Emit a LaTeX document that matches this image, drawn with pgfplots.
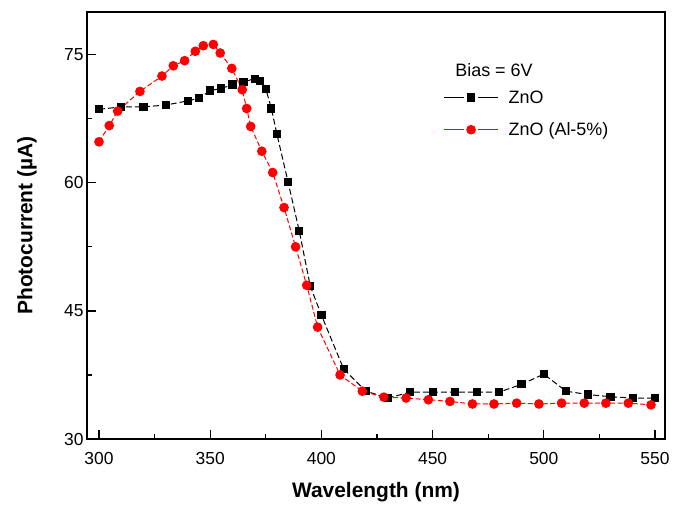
\documentclass[border=0pt]{standalone}
\usepackage{pgfplots}
\pgfplotsset{compat=1.18}
\usepackage{fontspec}
\setmainfont{Liberation Sans}

\begin{document}
\begin{tikzpicture}
\begin{axis}[
  scale only axis,
  width=578bp, height=427bp,
  xmin=294.6, xmax=554.5,
  ymin=30, ymax=80,
  xtick={300,350,...,550},
  ytick={30,45,60,75},
  minor x tick num=1,
  minor y tick num=1,
  tick pos=left,
  tick align=inside,
  major tick length=9bp,
  minor tick length=5bp,
  every tick/.style={black,line width=1.2bp},
  axis line style={line width=1.6bp},
  /pgf/number format/assume math mode=true,
  ticklabel style={font=\fontsize{17.5}{20}\selectfont},
  xticklabel style={yshift=-10bp},
  xlabel={\textbf{Wavelength (nm)}},
  ylabel={\textbf{Photocurrent (µA)}},
  label style={font=\fontsize{21}{24}\selectfont},
  xlabel style={at={(axis description cs:0.5,-0.124)},anchor=center},
  ylabel style={at={(axis description cs:-0.104,0.5)},anchor=center},
  legend style={draw=none,fill=none,font=\fontsize{18}{20}\selectfont,
    at={(axis description cs:0.611,0.826)},anchor=north west,row sep=14bp,
    /tikz/every odd column/.append style={column sep=8bp}},
  legend cell align=left,
  legend image code/.code={
    \draw[solid,mark=none,line width=1.4bp] (0bp,0bp) -- (20bp,0bp) (34bp,0bp) -- (54bp,0bp);
    \draw[solid,only marks] plot coordinates {(27bp,0bp)};},
]
\addplot[black,line width=1bp,dash pattern=on 6bp off 3bp,
  mark=square*,mark size=3.6bp,mark options={solid}] coordinates {
  (300,68.6) (310,68.9) (320,68.9) (330,69.1) (340,69.6) (345,69.9)
  (350,70.8) (355,71.05) (360,71.5) (365,71.8) (370,72.2) (372.5,71.9)
  (375,71.0) (377.5,68.7) (380,65.7) (385,60.1) (390,54.4) (395,47.9)
  (400,44.5) (410,38.2) (420,35.6) (430,34.8) (440,35.5) (450,35.5)
  (460,35.5) (470,35.5) (480,35.5) (490,36.4) (500,37.6) (510,35.6)
  (520,35.2) (530,34.95) (540,34.8) (550,34.8)};
\addlegendentry{ZnO}
\addplot[red,line width=1bp,dash pattern=on 5bp off 2.5bp,
  mark=*,mark size=4.3bp,mark options={solid}] coordinates {
  (300,64.8) (304.6,66.7) (308.4,68.4) (318.4,70.7) (328.3,72.5)
  (333.4,73.7) (338.5,74.3) (343.3,75.4) (346.9,76.05) (351.4,76.2)
  (354.5,75.2) (359.7,73.4) (364.4,70.9) (366.4,68.7) (368.2,66.6)
  (373.2,63.7) (378.1,61.2) (383.2,57.1) (388.4,52.5) (393.4,48.0)
  (398.3,43.1) (408.4,37.5) (418.4,35.6) (428.1,34.9) (438.1,34.8)
  (448.1,34.6) (457.8,34.4) (467.9,34.1) (477.6,34.1) (487.8,34.2)
  (497.8,34.1) (508,34.2) (518.2,34.2) (527.9,34.2) (538,34.2)
  (548.2,34.0)};
\addlegendentry{ZnO (Al-5\%)}
\node[anchor=base west,font=\fontsize{18}{20}\selectfont,inner sep=0pt]
  at (axis description cs:0.637,0.850) {Bias = 6V};
\end{axis}
\pgfresetboundingbox
\path (-87bp,-66bp) rectangle (596bp,439bp);
\end{tikzpicture}
\end{document}
